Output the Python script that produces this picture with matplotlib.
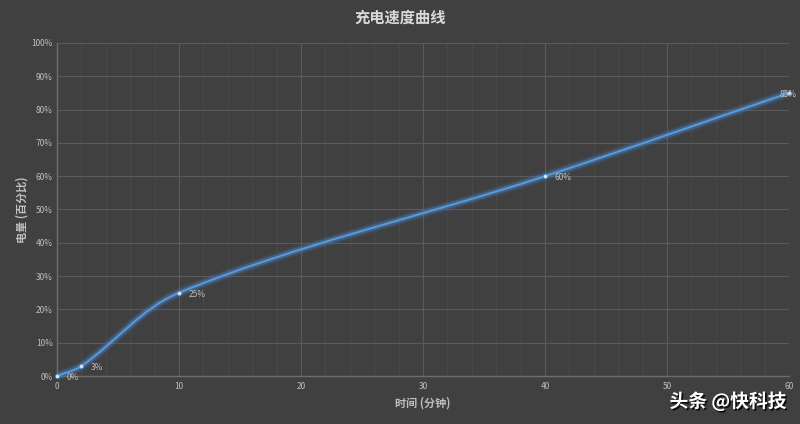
import matplotlib
matplotlib.use("Agg")
import matplotlib.pyplot as plt
import matplotlib.patheffects as pe
from matplotlib.path import Path
from matplotlib.patches import PathPatch
from matplotlib.ticker import MultipleLocator, PercentFormatter

plt.rcParams['font.family'] = ['Noto Sans CJK SC', 'DejaVu Sans']

# charging data: minutes -> battery %
minutes = [0, 2, 10, 40, 60]
battery = [0, 3, 25, 60, 85]
point_labels = ['0%', '3%', '25%', '60%', '85%']

x_ticks = [0, 10, 20, 30, 40, 50, 60]
y_ticks = [0, 10, 20, 30, 40, 50, 60, 70, 80, 90, 100]

BG = '#404040'
TEXT = '#bfbfbf'
LINE = '#5b9bd5'

AX_RECT = [0.07125, 0.1132, 0.915, 0.7854]
FIG_W, FIG_H = 800, 424


def smooth_path(xs, ys, sx, sy, k=1/3):
    # excel-like smoothing: tangent through neighbours, handle length
    # proportional to the segment length, worked out in screen proportions
    pts = [(x * sx, y * sy) for x, y in zip(xs, ys)]
    n = len(pts)

    def unit(a, b):
        dx, dy = b[0] - a[0], b[1] - a[1]
        d = (dx * dx + dy * dy) ** 0.5 or 1
        return dx / d, dy / d

    verts = [pts[0]]
    codes = [Path.MOVETO]
    for i in range(n - 1):
        p0 = pts[max(i - 1, 0)]
        p1 = pts[i]
        p2 = pts[i + 1]
        p3 = pts[min(i + 2, n - 1)]
        seg = ((p2[0] - p1[0]) ** 2 + (p2[1] - p1[1]) ** 2) ** 0.5
        u1 = unit(p0, p2)
        u2 = unit(p1, p3)
        c1 = (p1[0] + k * seg * u1[0], p1[1] + k * seg * u1[1])
        c2 = (p2[0] - k * seg * u2[0], p2[1] - k * seg * u2[1])
        verts += [c1, c2, p2]
        codes += [Path.CURVE4] * 3
    verts = [(vx / sx, vy / sy) for vx, vy in verts]
    return Path(verts, codes)


fig = plt.figure(figsize=(8, 4.24), dpi=100, facecolor=BG)
ax = fig.add_axes(AX_RECT)
ax.set_facecolor(BG)

ax.set_xlim(0, 60)
ax.set_ylim(0, 100)
ax.set_xticks(x_ticks)
ax.set_yticks(y_ticks)
ax.xaxis.set_minor_locator(MultipleLocator(2))
ax.yaxis.set_major_formatter(PercentFormatter(decimals=0))

ax.grid(which='major', color='#5a5a5a', linewidth=0.8)
ax.grid(which='minor', axis='x', color='#4b4b4b', linewidth=0.6)
ax.set_axisbelow(True)
ax.tick_params(which='both', length=0, colors=TEXT, labelsize=6)
ax.tick_params(axis='x', pad=4)
ax.tick_params(axis='y', pad=3)
for side in ['top', 'right']:
    ax.spines[side].set_visible(False)
for side in ['left', 'bottom']:
    ax.spines[side].set_color('#6e6e6e')
    ax.spines[side].set_linewidth(1)

# pixels per data unit, so the smoothing follows the on-screen shape
sx = AX_RECT[2] * FIG_W / 60
sy = AX_RECT[3] * FIG_H / 100

# glowing smoothed line
curve = PathPatch(smooth_path(minutes, battery, sx, sy), fill=False,
                  edgecolor=LINE, linewidth=1.4, zorder=3, clip_on=False)
curve.set_path_effects([
    pe.Stroke(linewidth=7, foreground='#3c6aa3', alpha=0.22),
    pe.Stroke(linewidth=4.2, foreground='#4a80c0', alpha=0.45),
    pe.Normal(),
])
ax.add_patch(curve)

ax.scatter(minutes, battery, s=8, color='#dce9f7', edgecolors=LINE,
           linewidths=0.5, zorder=4, clip_on=False)

for i, (x, y, lab) in enumerate(zip(minutes, battery, point_labels)):
    dx = -7 if i == len(minutes) - 1 else 7
    ax.annotate(lab, (x, y), xytext=(dx, -1), textcoords='offset points',
                fontsize=6, color=TEXT, va='center', ha='left',
                annotation_clip=False, zorder=5)

fig.text(0.5, 0.958, '充电速度曲线', ha='center', va='center',
         fontsize=11, fontweight='bold', color='#d9d9d9')
ax.set_xlabel('时间 (分钟)', fontsize=8, fontweight='bold', color=TEXT,
              labelpad=4)
ax.set_ylabel('电量 (百分比)', fontsize=8, fontweight='bold', color=TEXT,
              labelpad=2)

# watermark, nudged just under the tick labels
fig.text(0.983, 0.052, '头条 @快科技', ha='right', va='center', fontsize=13.5,
         fontweight='bold', color='white',
         path_effects=[pe.withSimplePatchShadow(offset=(1.2, -1.2),
                                                shadow_rgbFace='black',
                                                alpha=0.8)])

fig.savefig('out.png', dpi=100, facecolor=BG)
